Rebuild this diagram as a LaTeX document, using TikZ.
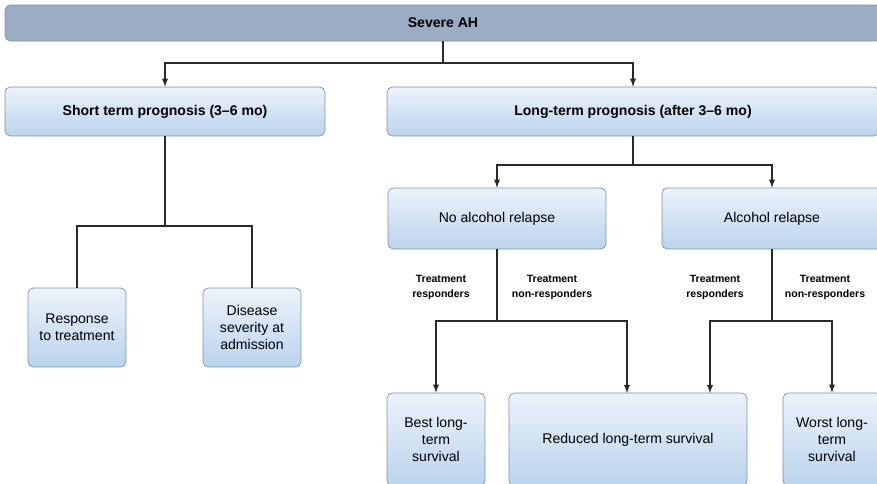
\documentclass[tikz,border=0pt]{standalone}
\usepackage{fontspec}
\setmainfont{Liberation Sans}
\usetikzlibrary{arrows, positioning}
\definecolor{boxline}{RGB}{122,146,176}
\definecolor{topfill}{RGB}{155,173,196}
\definecolor{boxtop}{RGB}{236,243,251}
\definecolor{boxbot}{RGB}{186,211,236}
\definecolor{linec}{RGB}{40,40,40}
\tikzset{%
	topbox/.style={draw=boxline, fill=topfill, rounded corners=3pt, inner sep=0mm,%
		font=\fontsize{8}{9.5}\selectfont\bfseries},
	box/.style={draw=boxline, top color=boxtop, bottom color=boxbot, rounded corners=3pt,%
		inner sep=0mm, align=center, font=\fontsize{8}{9.5}\selectfont},
	headbox/.style={box, font=\fontsize{8}{9.5}\selectfont\bfseries},
	smallbox/.style={box, minimum width=1.96cm},
	connector/.style={draw=linec, line width=0.6pt},
	sel/.style={connector, -latex},
	lab/.style={align=center, font=\fontsize{6}{8.5}\selectfont\bfseries}
}

\begin{document}
\begin{tikzpicture}[x=0.02cm, y=-0.02cm]
	\useasboundingbox (0,0) rectangle (877,484);
	\clip (0,0) rectangle (877,484);
	% boxes
	\node[topbox, minimum width=17.52cm, minimum height=0.72cm] (sah) at (443,23) {Severe AH};
	\node[headbox, minimum width=6.4cm, minimum height=0.98cm] (short) at (165,111.5) {Short term prognosis (3–6 mo)};
	\node[headbox, minimum width=9.84cm, minimum height=0.98cm] (long) at (633,111.5) {Long-term prognosis (after 3–6 mo)};
	\node[box, minimum width=4.36cm, minimum height=1.22cm] (noalc) at (497,218.5) {No alcohol relapse};
	\node[box, minimum width=4.4cm, minimum height=1.22cm] (alc) at (772,218.5) {Alcohol relapse};
	\node[smallbox, minimum height=1.58cm] (resp) at (77,327.5) {Response\\to treatment};
	\node[smallbox, minimum height=1.58cm] (sev) at (252,327.5) {Disease\\severity at\\admission};
	\node[smallbox, minimum height=1.86cm] (best) at (436,439.5) {Best long-\\term\\survival};
	\node[box, minimum width=4.76cm, minimum height=1.86cm] (red) at (628,439.5) {Reduced long-term survival};
	\node[smallbox, minimum height=1.86cm] (worst) at (832,439.5) {Worst long-\\term\\survival};
	% labels
	\node[lab] (resp1) at (441,287) {Treatment\\responders};
	\node[lab] (non1)  at (552,287) {Treatment\\non-responders};
	\node[lab] (resp2) at (715,287) {Treatment\\responders};
	\node[lab] (non2)  at (825,287) {Treatment\\non-responders};
	% junctions
	\coordinate (j1) at (443,63);
	\coordinate (j2) at (165,226);
	\coordinate (j3) at (633,165);
	\coordinate (j4) at (497,321);
	\coordinate (j5) at (772,321);
	\coordinate (r1) at (627,393);
	\coordinate (r2) at (710,393);
	% connectors
	\draw[connector] (sah) -- (j1);
	\draw[sel] (j1) -| (short);
	\draw[sel] (j1) -| (long);
	\draw[connector] (short) -- (j2);
	\draw[connector] (j2) -| (resp);
	\draw[connector] (j2) -| (sev);
	\draw[connector] (long) -- (j3);
	\draw[sel] (j3) -| (noalc);
	\draw[sel] (j3) -| (alc);
	\draw[connector] (noalc) -- (j4);
	\draw[sel] (j4) -| (best);
	\draw[sel] (j4) -| (r1);
	\draw[connector] (alc) -- (j5);
	\draw[sel] (j5) -| (r2);
	\draw[sel] (j5) -| (worst);
\end{tikzpicture}
\end{document}
